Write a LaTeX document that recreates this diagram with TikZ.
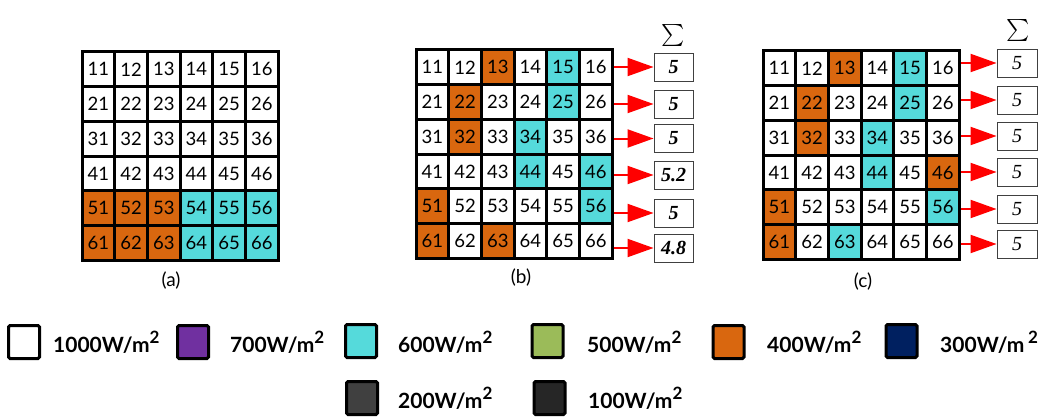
\documentclass[tikz,border=0pt]{standalone}
\usepackage{fontspec}
\setmainfont{Lato}
\newfontfamily\numserif{Liberation Serif}
\usetikzlibrary{arrows.meta,backgrounds}
\definecolor{orng}{RGB}{217,103,15}
\definecolor{cyn}{RGB}{85,218,219}
\definecolor{purp}{RGB}{112,48,160}
\definecolor{grn}{RGB}{155,187,89}
\definecolor{navy}{RGB}{0,32,96}
\definecolor{dgray}{RGB}{64,64,64}
\definecolor{ddgray}{RGB}{38,38,38}
\newcommand{\sqm}{\raisebox{0.42em}{\fontsize{17}{17}\selectfont 2}}
\newcommand{\bigsum}{\scalebox{2.2}{$\sum$}}
\begin{document}
\begin{tikzpicture}[x=1pt,y=-1pt,
  cell/.style={draw=black,line width=3pt,minimum width=32.7pt,minimum height=34.7pt,inner sep=0pt,font=\fontsize{18.5}{18.5}\selectfont},
  sumbox/.style={draw=black!75,line width=0.9pt,minimum width=39pt,minimum height=28pt,inner sep=0pt},
  redarrow/.style={draw=red,line width=2pt,-{Triangle[length=26pt,width=18pt]}},
  legsq/.style={draw=black,line width=3pt,rounded corners=1.5pt,minimum width=31pt,minimum height=33pt,inner sep=0pt},
  legtxt/.style={anchor=west,inner sep=0pt,font=\fontsize{21}{21}\selectfont\bfseries},
  sublabel/.style={inner sep=0pt,font=\fontsize{19}{19}\selectfont},
  sigma/.style={inner sep=0pt}]
\useasboundingbox (0,0) rectangle (1051,417);

% grids
\foreach \g/\gx/\gy in {a/82/52,b/416/50,c/763/51}{
  \foreach \r in {1,...,6}{
    \foreach \c in {1,...,6}{
      \node[cell] (\g\r\c) at ({\gx+(\c-0.5)*32.7},{\gy+(\r-0.5)*34.7}) {\r\c};
    }
  }
}
\begin{scope}[on background layer]
  \foreach \n in {a51,a52,a53,a61,a62,a63,b13,b22,b32,b51,b61,b63,c13,c22,c32,c46,c51,c61}
    \fill[orng] (\n.south west) rectangle (\n.north east);
  \foreach \n in {a54,a55,a56,a64,a65,a66,b15,b25,b34,b44,b46,b56,c15,c25,c34,c44,c56,c63}
    \fill[cyn] (\n.south west) rectangle (\n.north east);
\end{scope}

\node[sublabel] (la) at (171,281) {(a)};
\node[sublabel] (lb) at (521,278) {(b)};
\node[sublabel] (lc) at (863,282) {(c)};

% sum boxes (b)
\node[sigma] (sigb) at (673,36) {\bigsum};
\foreach \i/\yy/\v in {1/67/5,2/104/5,3/138.5/5,4/175/5.2,5/213/5,6/248/4.8}{
  \node[sumbox,font=\fontsize{20}{20}\selectfont\numserif\bfseries\itshape] (sb\i) at (673.5,\yy) {\v};
  \draw[redarrow] (b\i6.east |- sb\i.west) -- (sb\i.west);
}
% sum boxes (c)
\node[sigma] (sigc) at (1018,31) {\bigsum};
\foreach \i/\yy in {1/63,2/100,3/136,4/172,5/209,6/244}{
  \node[sumbox,minimum width=40pt,font=\fontsize{20}{20}\selectfont\numserif\itshape] (sc\i) at (1017,\yy) {5};
  \draw[redarrow] (c\i6.east |- sc\i.west) -- (sc\i.west);
}

% legend
\node[legsq,fill=white] (q1) at (24,342) {};
\node[legtxt] (t1) at (53,342) {1000W/m\sqm};
\node[legsq,fill=purp] (q2) at (193,342) {};
\node[legtxt] (t2) at (230,342) {700W/m\sqm};
\node[legsq,fill=cyn] (q3) at (361,341) {};
\node[legtxt] (t3) at (398,342) {600W/m\sqm};
\node[legsq,fill=grn] (q4) at (547.5,341) {};
\node[legtxt] (t4) at (587,342) {500W/m\sqm};
\node[legsq,fill=orng] (q5) at (728.5,342) {};
\node[legtxt] (t5) at (767,342) {400W/m\sqm};
\node[legsq,fill=navy] (q6) at (901.5,341) {};
\node[legtxt] (t6) at (940,342) {300W/m\,\sqm};
\node[legsq,fill=dgray] (q7) at (362,398) {};
\node[legtxt] (t7) at (398,398) {200W/m\sqm};
\node[legsq,fill=ddgray] (q8) at (549.5,398) {};
\node[legtxt] (t8) at (588,398) {100W/m\sqm};
\end{tikzpicture}
\end{document}
